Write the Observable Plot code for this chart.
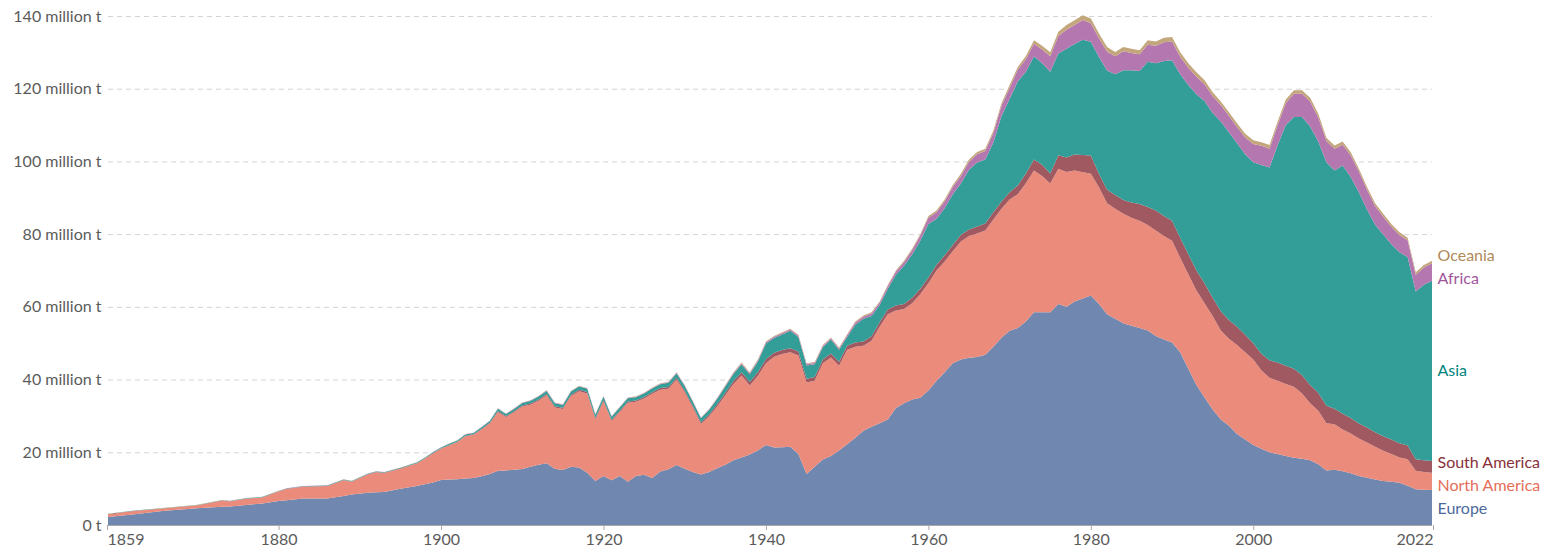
<!DOCTYPE html>
<html>
<head>
<meta charset="utf-8">
<script src="https://cdn.jsdelivr.net/npm/d3@7"></script>
<script src="https://cdn.jsdelivr.net/npm/@observablehq/plot@0.6"></script>
<style>
  html, body { margin: 0; padding: 0; background: #fff; }
  #chart { width: 1560px; height: 550px; }
</style>
</head>
<body>
<div id="chart"></div>
<script>
const years = [
  1859,1862,1866,1870,1873,1874,1876,1878,1880,1881,1883,1886,1888,1889,1891,1892,1893,1895,1897,1898,1899,1900,
  1901,1902,1903,1904,1905,1906,1907,1908,1909,1910,
  1911,1912,1913,1914,1915,1916,1917,1918,1919,1920,
  1921,1922,1923,1924,1925,1926,1927,1928,1929,1930,
  1931,1932,1933,1934,1935,1936,1937,1938,1939,1940,
  1941,1942,1943,1944,1945,1946,1947,1948,1949,1950,
  1951,1952,1953,1954,1955,1956,1957,1958,1959,1960,
  1961,1962,1963,1964,1965,1966,1967,1968,1969,1970,
  1971,1972,1973,1974,1975,1976,1977,1978,1979,1980,
  1981,1982,1983,1984,1985,1986,1987,1988,1989,1990,
  1991,1992,1993,1994,1995,1996,1997,1998,1999,2000,
  2001,2002,2003,2004,2005,2006,2007,2008,2009,2010,
  2011,2012,2013,2014,2015,2016,2017,2018,2019,2020,
  2021,2022
];

// million tonnes
const europe = [
  2.2,2.9,3.9,4.6,5.0,5.1,5.5,5.9,6.6,6.8,7.3,7.3,8.0,8.4,8.9,9.0,9.1,10.0,10.7,11.2,11.7,12.4,
  12.5,12.6,12.8,12.9,13.4,14.0,14.9,15.0,15.2,15.4,
  16.0,16.6,17.0,15.5,15.1,16.0,15.8,14.4,12.1,13.5,
  12.3,13.5,11.9,13.5,13.8,12.9,14.7,15.3,16.5,15.5,
  14.6,13.9,14.6,15.6,16.6,17.8,18.6,19.4,20.5,22.0,
  21.3,21.4,21.5,19.5,14.0,16.0,18.0,19.0,20.5,22.2,
  24.0,25.9,27.0,28.0,29.0,32.2,33.5,34.5,35.0,37.0,
  39.7,42.0,44.5,45.5,46.0,46.2,46.8,49.0,51.5,53.4,
  54.2,56.0,58.5,58.5,58.5,60.8,60.0,61.5,62.3,63.1,
  60.8,58.0,56.7,55.5,54.8,54.2,53.5,52.0,51.0,50.2,
  47.5,43.0,38.5,35.1,31.8,29.0,27.3,25.0,23.5,22.0,
  21.0,20.0,19.5,19.0,18.5,18.2,17.8,16.7,15.0,15.2,
  14.8,14.2,13.5,13.0,12.5,12.1,11.9,11.6,10.8,9.8,
  9.7,9.6
];
const northAmerica = [
  0.8,0.9,0.7,0.8,1.7,1.4,1.7,1.7,2.6,3.1,3.2,3.4,4.3,3.5,5.0,5.5,5.2,5.5,6.2,7.0,8.0,8.6,
  9.4,10.2,11.6,11.9,12.9,13.9,16.2,14.7,15.8,17.2,
  17.1,17.6,18.7,16.8,16.8,19.5,21.0,21.8,17.0,20.5,
  16.3,17.6,21.7,20.4,21.0,23.2,22.5,22.2,23.5,21.0,
  17.7,13.9,15.3,17.0,19.1,21.0,22.5,19.0,20.5,22.5,
  25.0,25.6,26.0,27.1,25.2,23.7,26.5,27.1,23.3,26.0,
  25.0,23.4,23.7,26.5,29.0,26.8,25.9,26.5,28.5,29.5,
  30.3,30.5,30.8,32.5,33.5,34.0,34.2,35.0,35.5,36.1,
  36.8,38.0,39.0,37.5,35.4,37.2,37.1,36.0,34.7,33.5,
  32.1,30.5,30.3,30.1,29.7,29.5,29.0,29.0,28.5,28.0,
  26.0,26.0,26.0,25.9,25.7,24.5,23.9,24.5,24.0,23.5,
  21.5,20.5,20.2,19.8,19.5,18.0,15.7,14.7,13.0,12.5,
  11.5,11.0,10.3,9.7,9.0,8.3,7.6,7.0,7.3,5.1,
  4.9,4.8
];
const southAmerica = [
  0.03,0.03,0.03,0.04,0.04,0.04,0.05,0.05,0.05,0.05,0.06,0.06,0.07,0.07,0.07,0.08,0.08,0.08,0.09,0.09,0.1,0.1,
  0.12,0.12,0.15,0.15,0.18,0.2,0.25,0.25,0.27,0.27,
  0.3,0.33,0.35,0.35,0.33,0.35,0.37,0.37,0.35,0.37,
  0.35,0.35,0.37,0.37,0.4,0.42,0.45,0.47,0.5,0.5,
  0.47,0.45,0.5,0.6,0.7,0.8,0.9,0.9,1.0,1.1,
  1.1,1.1,1.1,1.1,1.0,1.0,1.0,1.1,1.1,1.1,
  1.2,1.2,1.2,1.3,1.3,1.4,1.4,1.5,1.5,1.6,
  1.6,1.7,1.7,1.8,1.8,1.9,1.9,2.0,2.0,2.0,
  2.4,2.7,3.0,3.1,2.8,3.7,4.0,4.4,4.8,5.0,
  3.7,3.7,3.8,3.8,4.2,4.6,5.0,5.5,5.5,5.5,
  5.5,5.5,5.5,5.5,5.0,5.3,5.2,5.0,4.8,4.5,
  4.6,4.8,5.0,5.0,5.0,5.0,5.0,5.0,4.8,4.3,
  4.3,4.2,4.1,4.1,4.0,4.0,4.0,3.9,3.8,3.2,
  3.2,3.2
];
const asia = [
  0.05,0.06,0.07,0.08,0.09,0.09,0.1,0.1,0.1,0.11,0.12,0.13,0.14,0.14,0.15,0.15,0.16,0.17,0.19,0.2,0.21,0.22,
  0.3,0.3,0.36,0.36,0.42,0.48,0.6,0.6,0.66,0.66,
  0.72,0.78,0.84,0.84,0.78,0.84,0.9,0.9,0.84,0.9,
  0.84,0.84,0.9,0.9,0.96,1.02,1.08,1.14,1.2,1.2,
  1.14,1.08,1.2,1.44,1.68,1.92,2.16,2.16,2.9,4.3,
  4.0,4.3,4.8,4.0,3.7,3.5,3.4,3.8,3.3,2.4,
  4.9,6.2,5.6,4.7,5.6,8.4,10.5,11.9,13.2,14.7,
  12.6,12.9,14.0,14.1,16.4,17.6,17.6,19.2,23.5,25.7,
  28.6,28.0,28.4,27.9,28.0,28.0,29.9,30.4,31.7,31.3,
  32.1,32.8,33.2,35.7,36.4,36.6,39.9,40.5,42.6,44.1,
  45.0,46.5,48.5,50.1,50.8,52.2,51.6,50.5,49.7,49.8,
  51.9,53.0,59.8,66.2,69.2,71.0,71.1,69.1,67.0,65.5,
  68.3,66.3,63.6,60.0,57.1,55.5,53.7,52.5,51.8,46.1,
  48.3,49.6
];
const africa = [
  0.01,0.01,0.01,0.01,0.01,0.01,0.02,0.02,0.02,0.02,0.02,0.02,0.02,0.02,0.03,0.03,0.03,0.03,0.03,0.03,0.04,0.04,
  0.04,0.04,0.05,0.05,0.05,0.06,0.08,0.08,0.09,0.09,
  0.1,0.1,0.11,0.11,0.1,0.11,0.12,0.12,0.11,0.12,
  0.11,0.11,0.12,0.12,0.13,0.14,0.14,0.15,0.16,0.16,
  0.15,0.14,0.16,0.19,0.22,0.26,0.29,0.29,0.35,0.35,
  0.35,0.35,0.35,0.35,0.35,0.35,0.35,0.35,0.35,0.5,
  0.6,0.6,0.7,0.7,0.8,0.9,1.0,1.2,1.4,1.7,
  1.8,1.9,2.0,2.1,2.2,2.3,2.4,2.6,2.8,3.0,
  3.2,3.4,3.5,3.8,4.2,4.8,5.2,5.2,5.4,5.1,
  5.2,5.2,4.9,5.2,4.7,4.6,4.7,4.8,5.2,5.2,
  4.8,4.8,4.8,4.6,4.6,4.5,4.5,4.5,4.6,5.0,
  5.3,5.2,5.5,6.0,6.4,6.4,6.9,6.6,5.8,6.0,
  5.7,5.9,5.7,5.4,5.1,4.9,4.8,4.7,4.6,4.6,
  4.7,4.8
];
const oceania = [
  0.02,0.02,0.02,0.02,0.03,0.03,0.03,0.03,0.03,0.03,0.03,0.03,0.04,0.04,0.04,0.04,0.04,0.04,0.04,0.04,0.04,0.04,
  0.04,0.04,0.04,0.04,0.05,0.06,0.07,0.07,0.08,0.08,
  0.08,0.09,0.1,0.1,0.09,0.1,0.11,0.11,0.1,0.11,
  0.1,0.1,0.11,0.11,0.11,0.12,0.13,0.14,0.14,0.14,
  0.14,0.13,0.14,0.17,0.2,0.22,0.25,0.25,0.25,0.25,
  0.25,0.25,0.25,0.25,0.25,0.25,0.25,0.25,0.25,0.3,
  0.3,0.3,0.3,0.3,0.3,0.3,0.4,0.4,0.4,0.5,
  0.5,0.5,0.5,0.6,0.6,0.6,0.6,0.7,0.7,0.8,
  0.8,0.9,0.9,1.0,1.1,1.2,1.3,1.3,1.3,1.3,
  1.3,1.3,1.2,1.2,1.2,1.1,1.2,1.2,1.2,1.2,
  1.2,1.2,1.2,1.1,1.1,1.0,1.0,1.0,1.0,1.0,
  1.0,1.0,1.0,1.0,1.0,1.0,1.0,1.0,0.9,0.9,
  0.9,0.9,0.8,0.8,0.8,0.8,0.8,0.8,0.7,0.7,
  0.7,0.7
];

const regions = ["Europe", "North America", "South America", "Asia", "Africa", "Oceania"];
const areaColors = ["#7088b0", "#ea8b7b", "#a05961", "#339d98", "#b577b0", "#c4a67d"];
const labelColors = ["#4c6a9c", "#e56e5a", "#883039", "#00847e", "#a2559c", "#b08a58"];
const xTicks = [1859, 1880, 1900, 1920, 1940, 1960, 1980, 2000, 2022];
const yTicks = [0, 20, 40, 60, 80, 100, 120, 140];

const seriesValues = [europe, northAmerica, southAmerica, asia, africa, oceania];
const data = years.flatMap((year, i) =>
  regions.map((region, k) => ({ year, region, value: seriesValues[k][i] }))
);

// end labels at the midpoint of each band in the last year, nudged apart
const last = years.length - 1;
let cum = 0;
const labels = regions.map((name, k) => {
  const v = seriesValues[k][last];
  const mid = cum + v / 2;
  cum += v;
  return { name, y: mid, color: labelColors[k], year: years[last] };
});
const gap = 23 / (509.5 / 140);
for (let it = 0; it < 200; it++) {
  for (let i = 1; i < labels.length; i++) {
    const d = labels[i].y - labels[i - 1].y;
    if (d < gap) {
      const o = (gap - d) / 2;
      labels[i].y += o;
      labels[i - 1].y -= o;
    }
  }
}

const fmtY = d => d === 0 ? "0 t" : `${d} million t`;
const axisXOpts = { tickSize: 5, tickPadding: 3, tickFormat: d => String(d), fontSize: 16, color: "#5b5b5b", stroke: "#a8a8a8", label: null };

const chart = Plot.plot({
  width: 1560,
  height: 550,
  marginLeft: 108,
  marginRight: 128,
  marginTop: 16,
  marginBottom: 25,
  style: { fontFamily: "Lato, sans-serif", fontSize: "16px", background: "#fff", overflow: "visible" },
  x: { domain: [1859, 2022], label: null },
  y: { domain: [0, 140], label: null },
  color: { domain: regions, range: areaColors },
  marks: [
    Plot.gridY(yTicks.filter(d => d > 0), { stroke: "#d4d4d4", strokeOpacity: 1, strokeDasharray: "5,4" }),
    Plot.areaY(data, { x: "year", y: "value", fill: "region", order: regions, curve: "linear" }),
    Plot.ruleY([0], { stroke: "#a8a8a8" }),
    Plot.axisY(yTicks, { tickSize: 0, tickPadding: 7, tickFormat: fmtY, fontSize: 16, color: "#5b5b5b", label: null }),
    Plot.axisX(xTicks.slice(1, -1), axisXOpts),
    Plot.axisX(xTicks.slice(0, 1), { ...axisXOpts, textAnchor: "start", dx: -1 }),
    Plot.axisX(xTicks.slice(-1), { ...axisXOpts, textAnchor: "end", dx: 1 }),
    Plot.text(labels, { x: "year", y: "y", text: "name", fill: "color", textAnchor: "start", dx: 5, fontSize: 16 })
  ]
});
document.getElementById("chart").appendChild(chart);
</script>
</body>
</html>
